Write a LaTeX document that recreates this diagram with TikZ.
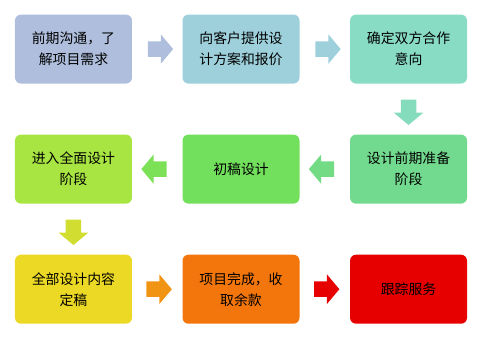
\documentclass[tikz,border=0pt]{standalone}
\usepackage{fontspec}
\setmainfont{Noto Sans CJK SC}
\usetikzlibrary{positioning,calc,shapes.arrows}

\definecolor{cComm}{HTML}{AEBEDC}
\definecolor{cQuote}{HTML}{9DD0DB}
\definecolor{cAgree}{HTML}{88DCC4}
\definecolor{cPrep}{HTML}{72DA8E}
\definecolor{cDraft}{HTML}{72E05C}
\definecolor{cDetail}{HTML}{A8E542}
\definecolor{cFinal}{HTML}{ECD925}
\definecolor{cFinish}{HTML}{F3760C}
\definecolor{cService}{HTML}{E60000}

\begin{document}
\begin{tikzpicture}[node distance=37.9pt and 37.5pt]
  \tikzset{box/.style={rounded corners=4.5pt, align=center, minimum width=87.75pt, minimum height=51.75pt, inner sep=0pt, font=\fontsize{10.4}{15.75}\selectfont},
    blockarrow/.style={single arrow, draw=none, inner xsep=0pt, inner ysep=5.6pt, minimum height=19pt, single arrow head extend=5.25pt, single arrow tip angle=100}}
  \useasboundingbox (0,0) rectangle (358.5pt,-252pt);
  % row 1
  \node[box, fill=cComm] (comm) at (55.1pt,-36.8pt) {前期沟通，了\\解项目需求};
  \node[box, fill=cQuote, right=of comm] (quote) {向客户提供设\\计方案和报价};
  \node[box, fill=cAgree, right=of quote] (agree) {确定双方合作\\意向};
  % row 2
  \node[box, fill=cPrep, below=of agree] (prep) {设计前期准备\\阶段};
  \node[box, fill=cDraft, left=of prep] (draft) {初稿设计};
  \node[box, fill=cDetail, left=of draft] (detail) {进入全面设计\\阶段};
  % row 3
  \node[box, fill=cFinal, below=of detail] (final) {全部设计内容\\定稿};
  \node[box, fill=cFinish, right=of final] (finish) {项目完成，收\\取余款};
  \node[box, fill=cService, right=of finish] (service) {跟踪服务};
  % arrows
  \node[blockarrow, fill=cComm] (a1) at ($(comm.east)!0.5!(quote.west)$) {};
  \node[blockarrow, fill=cQuote] (a2) at ($(quote.east)!0.5!(agree.west)$) {};
  \node[blockarrow, fill=cAgree!85!cPrep, rotate=-90] (a3) at ($(agree.south)!0.5!(prep.north)$) {};
  \node[blockarrow, fill=cPrep!80!cDraft, rotate=180] (a4) at ($(prep.west)!0.5!(draft.east)$) {};
  \node[blockarrow, fill=cDraft!80!cDetail, rotate=180] (a5) at ($(draft.west)!0.5!(detail.east)$) {};
  \node[blockarrow, fill=cDetail!40!cFinal, rotate=-90] (a6) at ($(detail.south)!0.5!(final.north)$) {};
  \node[blockarrow, fill=cFinal!30!cFinish, xshift=-1pt] (a7) at ($(final.east)!0.5!(finish.west)$) {};
  \node[blockarrow, fill=cService, xshift=-1pt] (a8) at ($(finish.east)!0.5!(service.west)$) {};
\end{tikzpicture}
\end{document}
